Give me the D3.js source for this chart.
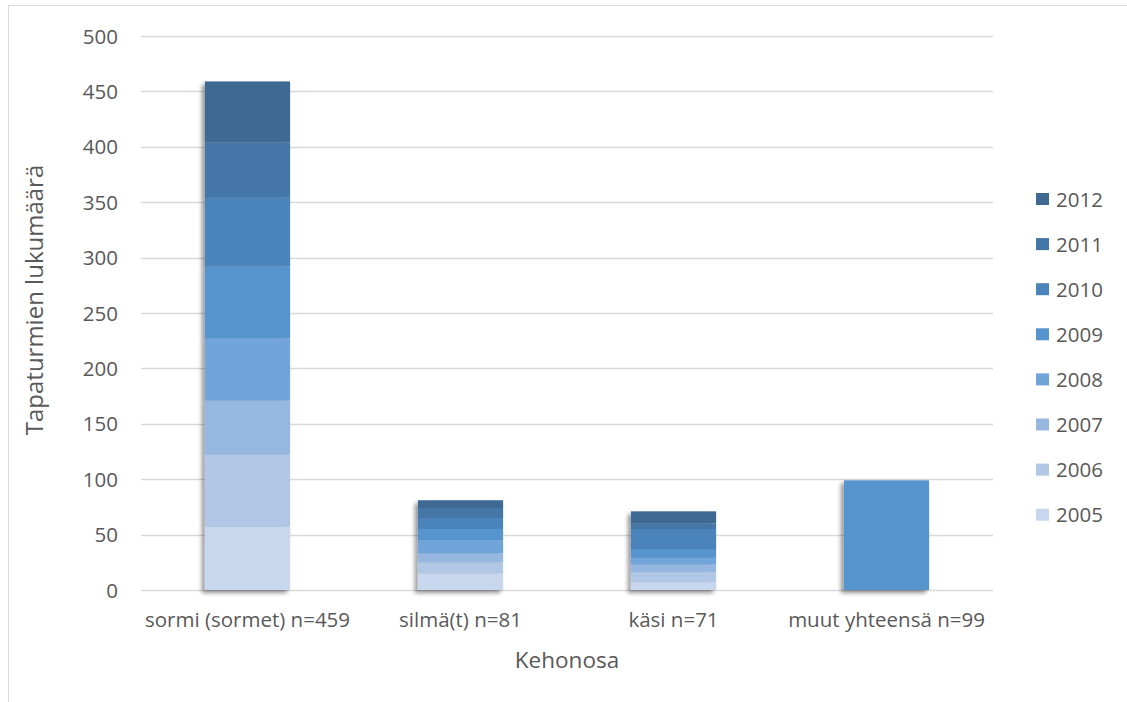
<!DOCTYPE html>
<html>
<head>
<meta charset="utf-8">
<script src="https://cdn.jsdelivr.net/npm/d3@7"></script>
<style>
  html, body { margin: 0; padding: 0; background: #ffffff; }
  svg { display: block; font-family: "Open Sans", "Noto Sans", sans-serif; }
</style>
</head>
<body>
<svg id="chart" width="1127" height="702"></svg>
<script>
// Body parts (x categories)
const categories = ["sormi (sormet) n=459", "silmä(t) n=81", "käsi n=71", "muut yhteensä n=99"];
// Years, stacked bottom to top
const years = ["2005", "2006", "2007", "2008", "2009", "2010", "2011", "2012"];
// Accidents per year for each body part (same order as categories)
const v2005 = [57, 15, 7, 0];
const v2006 = [65, 10, 9, 0];
const v2007 = [49, 8, 7, 0];
const v2008 = [56, 12, 6, 0];
const v2009 = [65, 10, 8, 99];
const v2010 = [62, 10, 18, 0];
const v2011 = [50, 9, 5, 0];
const v2012 = [55, 7, 11, 0];
const yTicks = [0, 50, 100, 150, 200, 250, 300, 350, 400, 450, 500];
const yearColors = ["#c8d7ed", "#b0c8e5", "#96b8e0", "#71a4d8", "#5794ce", "#4b84ba", "#4576a8", "#3e6993"];

const seriesValues = [v2005, v2006, v2007, v2008, v2009, v2010, v2011, v2012];
const rows = categories.map((c, i) => {
  const r = { category: c };
  years.forEach((y, k) => { r[y] = seriesValues[k][i]; });
  return r;
});

const svg = d3.select("#chart");
const textColor = "#595959";
const gridColor = "#d9d9d9";

// Outer chart frame
svg.append("rect")
  .attr("x", 8.5).attr("y", 5.5)
  .attr("width", 1130).attr("height", 720)
  .attr("fill", "#ffffff")
  .attr("stroke", gridColor).attr("stroke-width", 1);

const x = d3.scaleBand().domain(categories).range([141, 993]).paddingInner(0.6).paddingOuter(0.3);
const y = d3.scaleLinear().domain([0, 500]).range([590, 36]);
const color = d3.scaleOrdinal().domain(years).range(yearColors);

// Horizontal gridlines
svg.append("g")
  .selectAll("line")
  .data(yTicks)
  .join("line")
  .attr("x1", 141).attr("x2", 993)
  .attr("y1", d => Math.round(y(d)) + 0.5)
  .attr("y2", d => Math.round(y(d)) + 0.5)
  .attr("stroke", gridColor).attr("stroke-width", 1.3);

// Y axis tick labels
const yAxis = d3.axisLeft(y).tickValues(yTicks).tickSize(0).tickPadding(0);
const yg = svg.append("g").attr("transform", "translate(118,0)").call(yAxis);
yg.select(".domain").remove();
yg.selectAll("text")
  .attr("fill", textColor)
  .attr("font-size", "20.5px")
  .attr("font-family", "Open Sans, sans-serif")
  .attr("dy", "0.35em");

// Soft drop shadow down-left of the bars
const defs = svg.append("defs");
const f = defs.append("filter").attr("id", "barShadow")
  .attr("x", "-20%").attr("y", "-10%").attr("width", "140%").attr("height", "120%");
f.append("feDropShadow")
  .attr("dx", -3).attr("dy", 3).attr("stdDeviation", 2.2)
  .attr("flood-color", "#000000").attr("flood-opacity", 0.42);

const stacked = d3.stack().keys(years)(rows);

const barLayer = svg.append("g").attr("filter", "url(#barShadow)");
barLayer.selectAll("g")
  .data(stacked)
  .join("g")
  .attr("fill", d => color(d.key))
  .selectAll("rect")
  .data(d => d.filter(s => s[1] - s[0] > 0))
  .join("rect")
  .attr("x", d => x(d.data.category))
  .attr("width", x.bandwidth())
  .attr("y", d => y(d[1]))
  .attr("height", d => y(d[0]) - y(d[1]));

// Category labels
const xAxis = d3.axisBottom(x).tickSize(0).tickPadding(0);
const xg = svg.append("g").attr("transform", "translate(0,627)").call(xAxis);
xg.select(".domain").remove();
xg.selectAll("text")
  .attr("fill", textColor)
  .attr("font-size", "20.5px")
  .attr("font-family", "Open Sans, sans-serif")
  .attr("dy", 0)
  .attr("y", 0);

// Axis titles
svg.append("text")
  .attr("x", 567).attr("y", 668)
  .attr("text-anchor", "middle")
  .attr("fill", textColor)
  .attr("font-size", "22.5px")
  .text("Kehonosa");

svg.append("text")
  .attr("transform", "translate(43,300) rotate(-90)")
  .attr("text-anchor", "middle")
  .attr("fill", textColor)
  .attr("font-size", "24px")
  .text("Tapaturmien lukumäärä");

// Legend, newest year on top
const legendYears = years.slice().reverse();
const legend = svg.append("g");
const item = legend.selectAll("g")
  .data(legendYears)
  .join("g")
  .attr("transform", (d, i) => `translate(1036,${199 + i * 45.1})`);
item.append("rect")
  .attr("x", 0).attr("y", -6)
  .attr("width", 13).attr("height", 12)
  .attr("fill", d => color(d));
item.append("text")
  .attr("x", 20).attr("y", 7.5)
  .attr("fill", textColor)
  .attr("font-size", "20.5px")
  .text(d => d);
</script>
</body>
</html>
